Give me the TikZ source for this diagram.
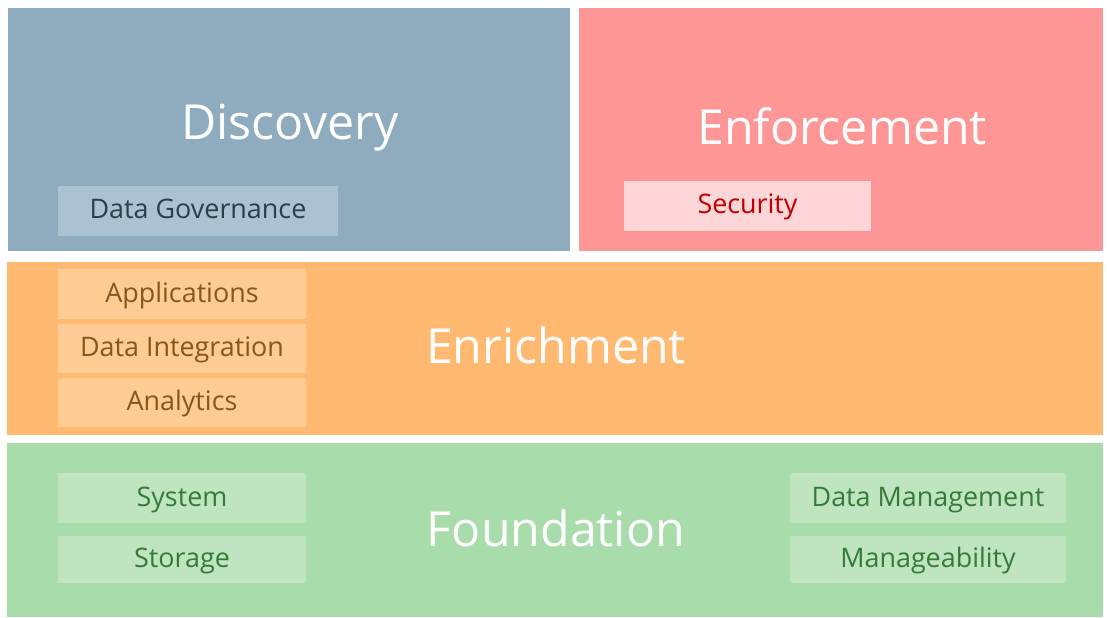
\documentclass[tikz,border=0pt]{standalone}
\usepackage{fontspec}
\setmainfont{Open Sans}
\definecolor{discC}{HTML}{8EACBE}
\definecolor{discS}{HTML}{ABC2D1}
\definecolor{discT}{HTML}{2E3E48}
\definecolor{enfC}{HTML}{FE9696}
\definecolor{enfS}{HTML}{FFD6D8}
\definecolor{enfT}{HTML}{C00000}
\definecolor{enrC}{HTML}{FFB970}
\definecolor{enrS}{HTML}{FFCC96}
\definecolor{enrT}{HTML}{8A5618}
\definecolor{fouC}{HTML}{A8DCAA}
\definecolor{fouS}{HTML}{BEE5BF}
\definecolor{fouT}{HTML}{357A38}
\tikzset{
  panel/.style={rectangle, inner sep=0pt, outer sep=0pt, draw=none, anchor=north west},
  sub/.style={rectangle, inner sep=0pt, outer sep=0pt, draw=none, anchor=north west, text height=18bp, text depth=2bp, font=\fontsize{27}{30}\selectfont},
  title/.style={inner sep=0pt, text=white, font=\fontsize{48.5}{55}\selectfont},
}
\begin{document}
\begin{tikzpicture}[x=1bp,y=-1bp]
\useasboundingbox[fill=white] (0,0) rectangle (1107,618);
% panels
\node[panel, fill=discC, minimum width=562bp, minimum height=243bp] (disc) at (8,8) {};
\node[panel, fill=enfC, minimum width=524bp, minimum height=243bp] (enf) at (579,8) {};
\node[panel, fill=enrC, minimum width=1096bp, minimum height=173bp] (enr) at (7,262) {};
\node[panel, fill=fouC, minimum width=1096bp, minimum height=174bp] (fou) at (7,443) {};
% titles
\node[title] (discT) at (290,128) {Discovery};
\node[title] (enfT) at (842,126) {Enforcement};
\node[title] (enrT) at (556,345) {Enrichment};
\node[title] (fouT) at (556,528) {Foundation};
% sub boxes
\node[sub, fill=discS, text=discT, minimum width=280bp, minimum height=50bp] (gov) at (58,186) {Data Governance};
\node[sub, fill=enfS, text=enfT, minimum width=247bp, minimum height=50bp] (sec) at (624,181) {Security};
\node[sub, fill=enrS, text=enrT, minimum width=248bp, minimum height=50bp] (app) at (58,269) {Applications};
\node[sub, fill=enrS, text=enrT, minimum width=248bp, minimum height=49bp] (dint) at (58,324) {Data Integration};
\node[sub, fill=enrS, text=enrT, minimum width=248bp, minimum height=49bp] (ana) at (58,378) {Analytics};
\node[sub, fill=fouS, text=fouT, minimum width=248bp, minimum height=50bp] (sys) at (58,473) {System};
\node[sub, fill=fouS, text=fouT, minimum width=248bp, minimum height=47bp] (sto) at (58,536) {Storage};
\node[sub, fill=fouS, text=fouT, minimum width=276bp, minimum height=50bp] (dm) at (790,473) {Data Management};
\node[sub, fill=fouS, text=fouT, minimum width=276bp, minimum height=47bp] (man) at (790,536) {Manageability};
\end{tikzpicture}
\end{document}
